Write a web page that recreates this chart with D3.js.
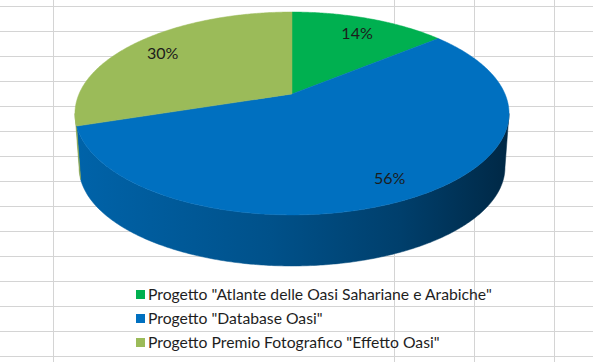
<!DOCTYPE html>
<html><head><meta charset="utf-8">
<script src="https://cdn.jsdelivr.net/npm/d3@7"></script>
<style>html,body{margin:0;padding:0;background:#fff;overflow:hidden}</style>
</head><body>
<svg id="c" width="593" height="362"></svg>
<script>
// ---- data ----
const categories = [
  'Progetto "Atlante delle Oasi Sahariane e Arabiche"',
  'Progetto "Database Oasi"',
  'Progetto Premio Fotografico "Effetto Oasi"'
];
const values = [14, 56, 30];
const colors = ["#00b050", "#0070c0", "#9bbb59"];

// ---- setup ----
const W = 593, H = 362;
const svg = d3.select("#c");
const FONT = "Lato, 'Open Sans', 'DejaVu Sans', sans-serif";

// spreadsheet gridlines behind the chart
const gridY = d3.range(6, H, 25);
const gridX = [53, 394, 474, 554];
const grid = svg.append("g").attr("stroke", "#d4d4d4").attr("stroke-width", 1).attr("shape-rendering", "crispEdges");
grid.selectAll("line.h").data(gridY).join("line").attr("class", "h")
  .attr("x1", 0).attr("x2", W).attr("y1", d => d + 0.5).attr("y2", d => d + 0.5);
grid.selectAll("line.v").data(gridX).join("line").attr("class", "v")
  .attr("y1", 0).attr("y2", H).attr("x1", d => d + 0.5).attr("x2", d => d + 0.5);

const color = d3.scaleOrdinal().domain(categories).range(colors);
const total = d3.sum(values);
const pct = d3.format(".0%");
const pie = d3.pie().sort(null).value(d => d.value);
const arcs = pie(categories.map((c, i) => ({ cat: c, value: values[i] })));

// perspective 3D ellipse projection
const geo = { cx: 292, K: 0.192,
  top: { cy: 94, A: 213, B: 97.7 },
  bot: { cy: 148.4, A: 209, B: 95 } };
function proj(t, r, plane) {
  const u = r * Math.sin(t), v = r * Math.cos(t), w = 1 + geo.K * v;
  return [geo.cx + plane.A * u / w, plane.cy - plane.B * v / w];
}
function arcPts(a, b, plane) {
  const n = Math.max(2, Math.ceil(Math.abs(b - a) / 0.01));
  return d3.range(n + 1).map(i => proj(a + (b - a) * i / n, 1, plane));
}
const line = d3.line();

// side gradients
const defs = svg.append("defs");
const shade = (c, f) => { const r = d3.rgb(c); return d3.rgb(r.r * f, r.g * f, r.b * f).formatHex(); };
const stops = [[0, 0.88], [0.45, 0.72], [0.75, 0.56], [1, 0.36]];
arcs.forEach((d, i) => {
  const g = defs.append("linearGradient").attr("id", "side" + i)
    .attr("gradientUnits", "userSpaceOnUse").attr("x1", 75).attr("x2", 509).attr("y1", 0).attr("y2", 0);
  stops.forEach(s => g.append("stop").attr("offset", s[0]).attr("stop-color", shade(color(d.data.cat), s[1])));
});

// visible side range
const tR = Math.acos(-geo.K), tL = 2 * Math.PI - Math.acos(-geo.K);
const sides = svg.append("g");
arcs.forEach((d, i) => {
  const a = Math.max(d.startAngle, tR), b = Math.min(d.endAngle, tL);
  if (b <= a) return;
  const pts = arcPts(a, b, geo.top).concat(arcPts(b, a, geo.bot));
  sides.append("path").attr("d", line(pts) + "Z").attr("fill", "url(#side" + i + ")")
    .attr("stroke", "url(#side" + i + ")").attr("stroke-width", 0.5);
});

// top faces
const tops = svg.append("g");
arcs.forEach((d, i) => {
  const pts = [proj(0, 0, geo.top)].concat(arcPts(d.startAngle, d.endAngle, geo.top));
  tops.append("path").attr("d", line(pts) + "Z").attr("fill", color(d.data.cat))
    .attr("stroke", color(d.data.cat)).attr("stroke-width", 0.5);
});

// legend (font size fitted to the reference legend width)
const legend = svg.append("g");
const probe = legend.append("text").attr("font-family", FONT).attr("font-size", 15).text(categories[0]);
const fs = 15 * 344 / probe.node().getComputedTextLength();
probe.remove();

// data labels
const labR = 0.82;
svg.append("g").selectAll("text").data(arcs).join("text")
  .attr("x", d => proj((d.startAngle + d.endAngle) / 2, labR, geo.top)[0])
  .attr("y", d => proj((d.startAngle + d.endAngle) / 2, labR, geo.top)[1] + 2)
  .attr("text-anchor", "middle").attr("dominant-baseline", "central")
  .attr("font-family", FONT).attr("font-size", fs * 1.02).attr("fill", "#1c1c1c")
  .text(d => pct(d.data.value / total));

const rows = legend.selectAll("g").data(categories).join("g")
  .attr("transform", (d, i) => `translate(136,${300 + i * 24})`);
rows.append("rect").attr("x", 0).attr("y", -10).attr("width", 9).attr("height", 9).attr("fill", d => color(d));
rows.append("text").attr("x", 12).attr("y", 0).attr("font-family", FONT).attr("font-size", fs)
  .attr("fill", "#1e1e1e").text(d => d);
</script>
</body></html>
